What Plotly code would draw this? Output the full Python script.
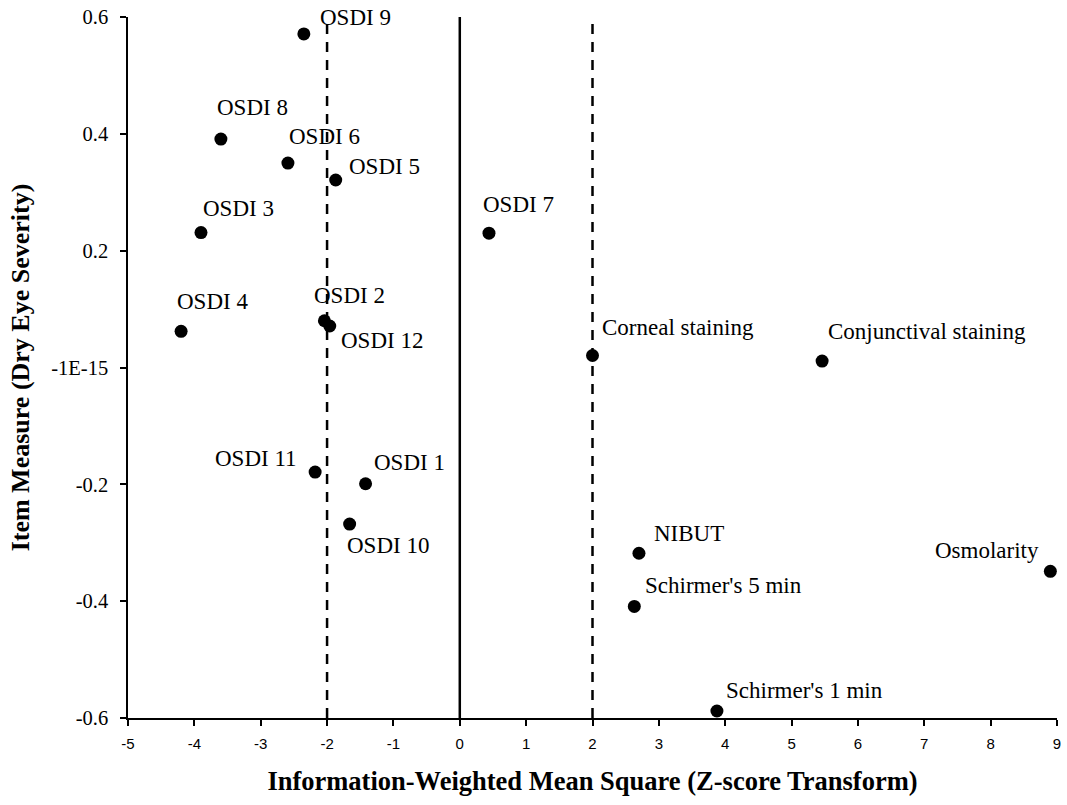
import plotly.graph_objects as go

# Item fit: information-weighted mean square (ZSTD) vs item measure
items = [
    "OSDI 9", "OSDI 8", "OSDI 6", "OSDI 5", "OSDI 3", "OSDI 7", "OSDI 4",
    "OSDI 2", "OSDI 12", "Corneal staining", "Conjunctival staining",
    "OSDI 11", "OSDI 1", "OSDI 10", "NIBUT", "Osmolarity",
    "Schirmer's 5 min", "Schirmer's 1 min",
]
infit_zstd = [
    -2.35, -3.60, -2.59, -1.87, -3.90, 0.44, -4.20,
    -2.04, -1.96, 2.00, 5.46,
    -2.18, -1.42, -1.66, 2.70, 8.90,
    2.63, 3.875,
]
item_measure = [
    0.571, 0.391, 0.350, 0.321, 0.231, 0.230, 0.062,
    0.080, 0.071, 0.0205, 0.011,
    -0.179, -0.199, -0.268, -0.318, -0.349,
    -0.409, -0.588,
]

x_ticks = list(range(-5, 10))
x_tick_text = [str(v) for v in x_ticks]
y_ticks = [-0.6, -0.4, -0.2, 0.0, 0.2, 0.4, 0.6]
y_tick_text = ["-0.6", "-0.4", "-0.2", "-1E-15", "0.2", "0.4", "0.6"]

# Fit boundaries (dashed) and zero line (solid)
fit_bounds = [-2, 2]
zero_line = [0]

# Label placement: (anchor side, x pixel shift, y pixel shift)
label_offsets = {
    "OSDI 9": ("left", 15, 16),
    "OSDI 8": ("left", -5, 32),
    "OSDI 6": ("left", 0, 27),
    "OSDI 5": ("left", 12, 13),
    "OSDI 3": ("left", 1, 24),
    "OSDI 7": ("left", -7, 29),
    "OSDI 4": ("left", -5, 30),
    "OSDI 2": ("left", -11, 25),
    "OSDI 12": ("left", 10, -14),
    "Corneal staining": ("left", 8, 28),
    "Conjunctival staining": ("left", 5, 30),
    "OSDI 11": ("right", -17, 14),
    "OSDI 1": ("left", 7, 21),
    "OSDI 10": ("left", -4, -21),
    "NIBUT": ("left", 14, 20),
    "Osmolarity": ("right", -10, 21),
    "Schirmer's 5 min": ("left", 10, 21),
    "Schirmer's 1 min": ("left", 8, 20),
}

SERIF = "Liberation Serif, Times New Roman, serif"
SANS = "Liberation Sans, Arial, sans-serif"

fig = go.Figure()

fig.add_trace(go.Scatter(
    x=infit_zstd,
    y=item_measure,
    mode="markers",
    marker=dict(color="black", size=13),
    cliponaxis=False,
    hovertext=items,
    showlegend=False,
))

for xv in fit_bounds:
    fig.add_shape(type="line", xref="x", yref="y", x0=xv, x1=xv,
                  y0=y_ticks[0], y1=y_ticks[-1],
                  line=dict(color="black", width=2.5, dash="10px,8px"))
for xv in zero_line:
    fig.add_shape(type="line", xref="x", yref="y", x0=xv, x1=xv,
                  y0=y_ticks[0], y1=y_ticks[-1],
                  line=dict(color="black", width=2.5))

for name, xv, yv in zip(items, infit_zstd, item_measure):
    side, dx, dy = label_offsets[name]
    fig.add_annotation(
        x=xv, y=yv, text=name, showarrow=False,
        xanchor=side, yanchor="middle", xshift=dx, yshift=dy,
        borderpad=0,
        font=dict(family=SERIF, size=23, color="black"),
    )

fig.update_layout(
    width=1067, height=805,
    margin=dict(l=128, r=6, t=16, b=87),
    paper_bgcolor="white", plot_bgcolor="white",
    xaxis=dict(
        range=[-5, 9], tickvals=x_ticks, ticktext=x_tick_text,
        showgrid=False, zeroline=False,
        showline=True, linecolor="black", linewidth=1.5,
        ticks="outside", ticklen=6, tickwidth=1.5, tickcolor="black",
        tickfont=dict(family=SANS, size=15, color="black"),
        ticklabelstandoff=5,
        title=dict(text="<b>Information-Weighted Mean Square (Z-score Transform)</b>",
                   font=dict(family=SERIF, size=26.5, color="black"), standoff=21),
    ),
    yaxis=dict(
        range=[-0.6, 0.6], tickvals=y_ticks, ticktext=y_tick_text,
        showgrid=False, zeroline=False,
        showline=True, linecolor="black", linewidth=1.5,
        ticks="outside", ticklen=6, tickwidth=1.5, tickcolor="black",
        tickfont=dict(family=SERIF, size=20.5, color="black"),
        ticklabelstandoff=8,
        title=dict(text="<b>Item Measure (Dry Eye Severity)</b>",
                   font=dict(family=SERIF, size=26, color="black"), standoff=14),
    ),
)

fig.write_html("out.html")
